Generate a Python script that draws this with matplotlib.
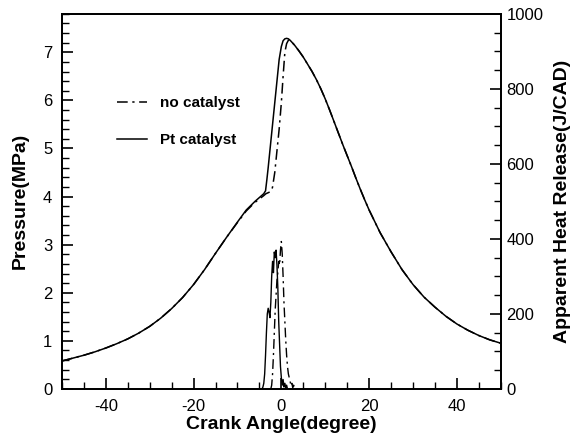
import numpy as np
import matplotlib
matplotlib.use("Agg")
import matplotlib.pyplot as plt
from matplotlib.ticker import MultipleLocator

plt.rcParams['font.family'] = ['Liberation Sans', 'DejaVu Sans']
plt.rcParams['xtick.direction'] = 'in'
plt.rcParams['ytick.direction'] = 'in'
plt.rcParams['axes.unicode_minus'] = False

# pressure (MPa) vs crank angle (deg)
ca_pt = [-50, -47.5, -45, -42.5, -40, -37.5, -35, -32.5, -30, -27.5, -25, -22.5, -20, -17.5, -15,
         -12.5, -10, -8, -6, -5, -4, -3.6, -3.3, -3.0, -2.5, -2.0, -1.5, -1.0, -0.5, 0.0, 0.4,
         0.8, 1.2, 1.6, 2, 3, 4, 5, 6, 7, 8, 9, 10, 11, 12, 13, 14, 15, 16, 17, 18, 19, 20,
         22.5, 25, 27.5, 30, 32.5, 35, 37.5, 40, 42.5, 45, 47.5, 50]
p_pt = [0.58, 0.64, 0.70, 0.77, 0.85, 0.94, 1.04, 1.16, 1.30, 1.47, 1.67, 1.90, 2.17, 2.48, 2.82,
        3.15, 3.47, 3.72, 3.90, 3.98, 4.06, 4.12, 4.35, 4.60, 5.05, 5.50, 5.95, 6.40, 6.85, 7.12, 7.24,
        7.28, 7.29, 7.28, 7.25, 7.15, 7.03, 6.90, 6.75, 6.60, 6.43, 6.24, 6.03, 5.80, 5.56, 5.32, 5.08,
        4.85, 4.62, 4.38, 4.15, 3.93, 3.72, 3.25, 2.85, 2.48, 2.17, 1.91, 1.70, 1.51, 1.35, 1.22,
        1.11, 1.02, 0.95]

ca_no = [-50, -47.5, -45, -42.5, -40, -37.5, -35, -32.5, -30, -27.5, -25, -22.5, -20, -17.5, -15,
         -12.5, -10, -8, -6, -5, -4, -3.5, -3.0, -2.5, -2.2, -2.0, -1.5, -1.0, -0.5, 0.0, 0.4,
         0.8, 1.2, 1.6, 2, 3, 4, 5, 6, 7, 8, 9, 10, 11, 12, 13, 14, 15, 16, 17, 18, 19, 20,
         22.5, 25, 27.5, 30, 32.5, 35, 37.5, 40, 42.5, 45, 47.5, 50]
p_no = [0.58, 0.64, 0.70, 0.77, 0.85, 0.94, 1.04, 1.16, 1.30, 1.47, 1.67, 1.90, 2.17, 2.48, 2.82,
        3.15, 3.46, 3.70, 3.88, 3.95, 4.02, 4.06, 4.08, 4.10, 4.13, 4.20, 4.50, 4.95, 5.40, 5.95, 6.50,
        7.00, 7.18, 7.25, 7.25, 7.15, 7.03, 6.90, 6.75, 6.60, 6.43, 6.24, 6.03, 5.80, 5.56, 5.32, 5.08,
        4.85, 4.62, 4.38, 4.15, 3.93, 3.72, 3.25, 2.85, 2.48, 2.17, 1.91, 1.70, 1.51, 1.35, 1.22,
        1.11, 1.02, 0.95]

# apparent heat release (J/CAD)
ca_hr_pt = [-4.4, -4.2, -4.0, -3.8, -3.6, -3.4, -3.2, -3.0, -2.8, -2.6, -2.4, -2.2, -2.0, -1.8, -1.6,
            -1.4, -1.2, -1.0, -0.8, -0.6, -0.4, -0.2, 0.0, 0.2, 0.4, 0.6, 0.8, 1.0, 1.2, 1.4]
hr_pt = [0, 5, 15, 40, 90, 150, 200, 215, 205, 190, 230, 300, 340, 310, 365,
         350, 370, 330, 270, 180, 120, 60, 30, 10, 25, 5, 15, 3, 10, 0]

ca_hr_no = [-2.4, -2.2, -2.0, -1.8, -1.6, -1.4, -1.2, -1.0, -0.8, -0.6, -0.4, -0.2, 0.0, 0.2, 0.4,
            0.6, 0.8, 1.0, 1.2, 1.4, 1.6, 1.8, 2.0, 2.2, 2.4, 2.6, 2.8, 3.0]
hr_no = [0, 10, 40, 90, 150, 210, 250, 290, 310, 340, 330, 370, 393, 360, 300,
         230, 180, 130, 90, 60, 40, 30, 20, 8, 15, 3, 10, 0]

dashdot = (0, (7, 3, 1.5, 3))

fig = plt.figure(figsize=(5.73, 4.46), dpi=100)
ax = fig.add_axes([0.108, 0.128, 0.766, 0.841])
ax.plot(ca_no, p_no, color='black', lw=1.1, linestyle=dashdot, label='no catalyst')
ax.plot(ca_pt, p_pt, color='black', lw=1.1, label='Pt catalyst')
ax.set_xlim(-50, 50)
ax.set_ylim(0, 7.8)
ax.xaxis.set_major_locator(MultipleLocator(20))
ax.xaxis.set_minor_locator(MultipleLocator(5))
ax.yaxis.set_major_locator(MultipleLocator(1))
ax.yaxis.set_minor_locator(MultipleLocator(0.2))
ax.tick_params(which='major', length=8, width=1.2, labelsize=12, pad=7, top=False, right=False)
ax.tick_params(which='minor', length=5, width=1.0, top=False, right=False)
ax.set_xlabel('Crank Angle(degree)', fontsize=14, fontweight='bold', labelpad=2)
ax.set_ylabel('Pressure(MPa)', fontsize=14, fontweight='bold', labelpad=10)
for s in ax.spines.values():
    s.set_linewidth(1.3)

leg = ax.legend(loc='upper left', bbox_to_anchor=(0.125, 0.78), frameon=False,
                handlelength=2.0, labelspacing=1.5, borderpad=0, borderaxespad=0,
                prop={'size': 11, 'weight': 'bold'})

ax2 = ax.twinx()
ax2.plot(ca_hr_no, hr_no, color='black', lw=1.0, linestyle=dashdot)
ax2.plot(ca_hr_pt, hr_pt, color='black', lw=1.0)
ax2.set_ylim(0, 1000)
ax2.yaxis.set_major_locator(MultipleLocator(200))
ax2.yaxis.set_minor_locator(MultipleLocator(50))
ax2.tick_params(which='major', length=8, width=1.2, labelsize=12, pad=4)
ax2.tick_params(which='minor', length=5, width=1.0)
ax2.set_ylabel('Apparent Heat Release(J/CAD)', fontsize=14, fontweight='bold', labelpad=8)
for s in ax2.spines.values():
    s.set_linewidth(1.3)

fig.savefig('out.png', dpi=100)
